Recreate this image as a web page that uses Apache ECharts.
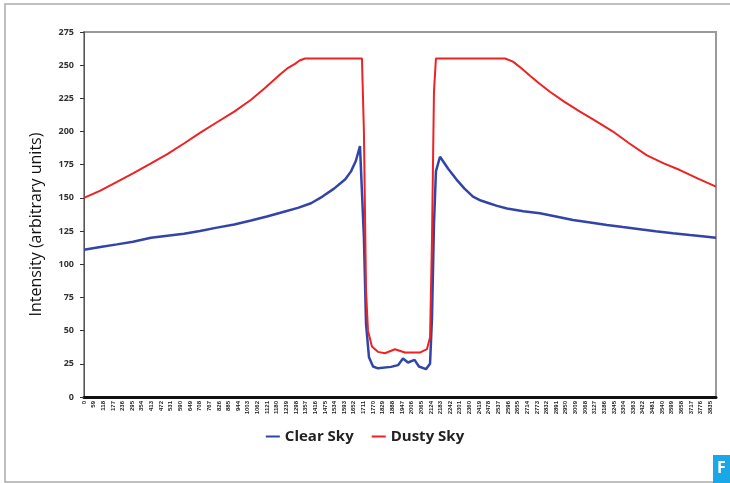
<!DOCTYPE html>
<html><head><meta charset="utf-8">
<script src="https://cdn.jsdelivr.net/npm/echarts@6/dist/echarts.min.js"></script>
<style>html,body{margin:0;padding:0;background:#fff}#c{width:730px;height:483px}</style>
</head><body><div id="c"></div>
<script>
const yTicks = [0, 25, 50, 75, 100, 125, 150, 175, 200, 225, 250, 275];
const xStep = 59;
const xMax = 3870;
const clearSky = [
  [0,111],[100,113],[202,115],[300,117],[410,120],[510,121.5],[612,123],[710,125],[814,127.6],
  [920,130],[1023,133],[1120,136],[1225,139.6],[1310,142.5],[1390,146],[1460,151],
  [1531,157],[1600,164],[1635,170],[1665,178],[1690,189],[1714,120],[1727,55],[1745,30],
  [1770,23],[1800,21.6],[1880,22.7],[1923,24],[1953,29],[1984,26],[2024,28],[2051,23],
  [2094,21],[2119,25],[2131,60],[2143,130],[2155,170],[2180,181],[2230,172],[2280,164],
  [2330,157],[2382,151],[2430,148],[2480,146],[2530,144],[2590,142],[2690,140],[2792,138.4],
  [2890,136],[2994,133.4],[3100,131.5],[3202,129.6],[3300,128],[3404,126.4],[3500,124.8],
  [3606,123.3],[3710,122],[3814,120.8],[3870,120]
];
const dustySky = [
  [0,150],[100,155.5],[202,162],[300,168.5],[410,176],[510,183],[612,191],[710,199],[814,207],
  [920,215],[1023,224],[1110,233],[1200,243],[1250,248],[1292,251],[1320,253.5],
  [1353,255],[1702,255],[1714,200],[1727,80],[1739,50],[1763,38],[1800,34],[1843,33],
  [1904,36],[1965,33.5],[2057,33.5],[2100,36],[2119,45],[2131,120],[2143,230],[2155,255],
  [2578,255],[2627,252.7],[2680,247.5],[2731,242],[2790,236],[2853,230],[2940,222.5],[3037,215],
  [3140,207.5],[3239,200],[3340,191],[3447,182],[3550,176],[3649,171],[3760,164.5],[3870,158.5]
];
const chart = echarts.init(document.getElementById('c'));
chart.setOption({
  animation: false,
  grid: {left: 84, right: 14, top: 32, bottom: 86, show: true, borderColor: '#9a9a9a', borderWidth: 2},
  legend: {
    bottom: 34, left: 'center', itemWidth: 14, itemHeight: 2, itemGap: 18, icon: 'rect',
    textStyle: {fontFamily: 'Open Sans', fontWeight: 'bold', fontSize: 15, color: '#222'},
    data: ['Clear Sky', 'Dusty Sky']
  },
  xAxis: {
    type: 'value', min: 0, max: xMax, interval: xStep,
    splitLine: {show: false},
    axisLine: {lineStyle: {color: '#111', width: 3}},
    axisTick: {show: false},
    axisLabel: {rotate: 90, fontSize: 6, fontWeight: 'bold', color: '#222', margin: 4,
      showMaxLabel: false, fontFamily: 'Liberation Sans', formatter: v => String(v)}
  },
  yAxis: {
    type: 'value', min: 0, max: 275, interval: 25,
    name: 'Intensity (arbitrary units)', nameLocation: 'middle', nameGap: 40,
    nameTextStyle: {fontFamily: 'Open Sans', fontSize: 16, color: '#111', padding: [0, 20, 0, 0]},
    splitLine: {show: false},
    axisLine: {show: true, lineStyle: {color: '#555', width: 1}},
    axisTick: {show: true, inside: false, length: 4, lineStyle: {color: '#333'}},
    axisLabel: {fontFamily: 'Open Sans', fontWeight: 'bold', fontSize: 9, color: '#333', margin: 10,
      formatter: v => yTicks.includes(v) ? String(v) : ''}
  },
  series: [
    {name: 'Clear Sky', type: 'line', data: clearSky, showSymbol: false, color: '#3344a8',
     lineStyle: {width: 2.5, color: '#3344a8'}},
    {name: 'Dusty Sky', type: 'line', data: dustySky, showSymbol: false, color: '#ee2222',
     lineStyle: {width: 2, color: '#ee2222'}}
  ],
  graphic: [
    {type: 'rect', shape: {x: 5, y: 4, width: 740, height: 478}, style: {fill: 'none', stroke: '#aaa', lineWidth: 1.5}, silent: true},
    {type: 'rect', shape: {x: 713, y: 455, width: 20, height: 30}, style: {fill: '#1aa7e8'}},
    {type: 'text', left: 717, top: 460, style: {text: 'F', fill: '#fff', font: 'bold 16px Open Sans'}}
  ]
});
</script></body></html>
